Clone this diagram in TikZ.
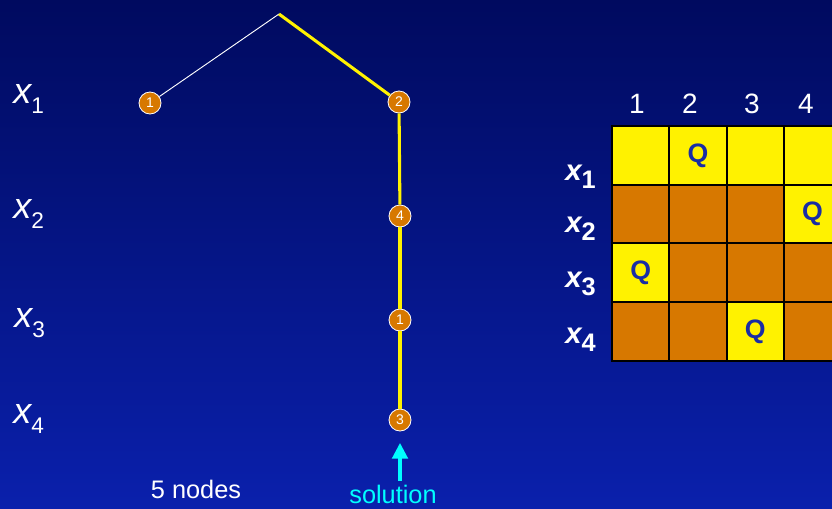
\documentclass[tikz,border=0pt]{standalone}
\usepackage{fontspec}
\setmainfont{Liberation Sans}
\usetikzlibrary{arrows.meta}
\definecolor{bgtop}{RGB}{0,10,95}
\definecolor{bgbot}{RGB}{10,32,172}
\definecolor{treeorange}{RGB}{215,120,0}
\definecolor{qblue}{RGB}{25,45,165}
\definecolor{solcyan}{RGB}{0,255,255}
\newcommand{\leftx}[1]{{\fontsize{27}{30}\selectfont\itshape x}\raisebox{-7.5pt}{\fontsize{17}{18}\selectfont #1}}
\newcommand{\gridx}[1]{{\fontsize{22}{24}\selectfont\bfseries\itshape x}\raisebox{-6pt}{\fontsize{19}{20}\selectfont\bfseries #1}}
\tikzset{
  tnode/.style={circle, fill=treeorange, draw=white, line width=0.6pt, minimum size=16.5pt, inner sep=0pt, text=white, font=\fontsize{10.5}{10.5}\selectfont},
  yedge/.style={yellow, line width=2.3pt},
  wedge/.style={white, line width=0.7pt},
  lbl/.style={text=white, inner sep=0pt, anchor=base west},
  colnum/.style={text=white, inner sep=0pt, anchor=base, font=\fontsize{21}{22}\selectfont},
  ycell/.style={fill=yellow, draw=black, line width=1.5pt},
  ocell/.style={fill=treeorange, draw=black, line width=1.5pt},
  queen/.style={text=qblue, font=\fontsize{20}{21}\selectfont\bfseries},
  caption/.style={inner sep=0pt, font=\fontsize{19}{20}\selectfont}
}
\begin{document}
\begin{tikzpicture}[x=0.75pt,y=-0.75pt]
\useasboundingbox (0,0) rectangle (832,508);
\clip (0,0) rectangle (832,508);
\shade[top color=bgtop, bottom color=bgbot] (0,0) rectangle (832,508);

% left labels
\node[lbl] (lx1) at (13,103) {\leftx{1}};
\node[lbl] (lx2) at (13,218) {\leftx{2}};
\node[lbl] (lx3) at (14,327) {\leftx{3}};
\node[lbl] (lx4) at (13,423) {\leftx{4}};

% tree
\coordinate (root) at (279,14);
\node[tnode] (a1) at (150,103) {1};
\node[tnode] (a2) at (399,102) {2};
\node[tnode] (b4) at (400,216) {4};
\node[tnode] (c1) at (400,320) {1};
\node[tnode] (d3) at (400,420) {3};
\draw[wedge] (root) -- (a1);
\draw[yedge] (root) -- (a2);
\draw[yedge] (a2) -- (b4);
\draw[yedge] (b4) -- (c1);
\draw[yedge] (c1) -- (d3);

% captions
\node[caption, text=white] (nodes5) at (196,489) {5 nodes};
\node[caption, text=solcyan] (sol) at (393,494) {solution};
\coordinate (arrstart) at (400,481);
\draw[solcyan, line width=3.2pt, -{Triangle[length=12pt,width=11.5pt]}, shorten >=8.5pt] (arrstart) -- (d3);

% column numbers
\node[colnum] (c1n) at (637,113) {1};
\node[colnum] (c2n) at (690,113) {2};
\node[colnum] (c3n) at (752,113) {3};
\node[colnum] (c4n) at (806,113) {4};

% grid
\def\gx{612}\def\gy{126}\def\gw{57.3}\def\gh{58.7}
\foreach \r/\c/\s in {0/0/ycell,0/1/ycell,0/2/ycell,0/3/ycell,
                      1/0/ocell,1/1/ocell,1/2/ocell,1/3/ycell,
                      2/0/ycell,2/1/ocell,2/2/ocell,2/3/ocell,
                      3/0/ocell,3/1/ocell,3/2/ycell,3/3/ocell}{
  \draw[\s] ({\gx+\c*\gw},{\gy+\r*\gh}) rectangle ({\gx+(\c+1)*\gw},{\gy+(\r+1)*\gh});
}
\node[queen] (q1) at ({\gx+1.5*\gw},{\gy+0.5*\gh}) {Q};
\node[queen] (q2) at ({\gx+3.5*\gw},{\gy+1.5*\gh}) {Q};
\node[queen] (q3) at ({\gx+0.5*\gw},{\gy+2.5*\gh}) {Q};
\node[queen] (q4) at ({\gx+2.5*\gw},{\gy+3.5*\gh}) {Q};

% grid row labels
\node[lbl] (gx1) at (565,180) {\gridx{1}};
\node[lbl] (gx2) at (565,232) {\gridx{2}};
\node[lbl] (gx3) at (565,287) {\gridx{3}};
\node[lbl] (gx4) at (565,343) {\gridx{4}};
\end{tikzpicture}
\end{document}
